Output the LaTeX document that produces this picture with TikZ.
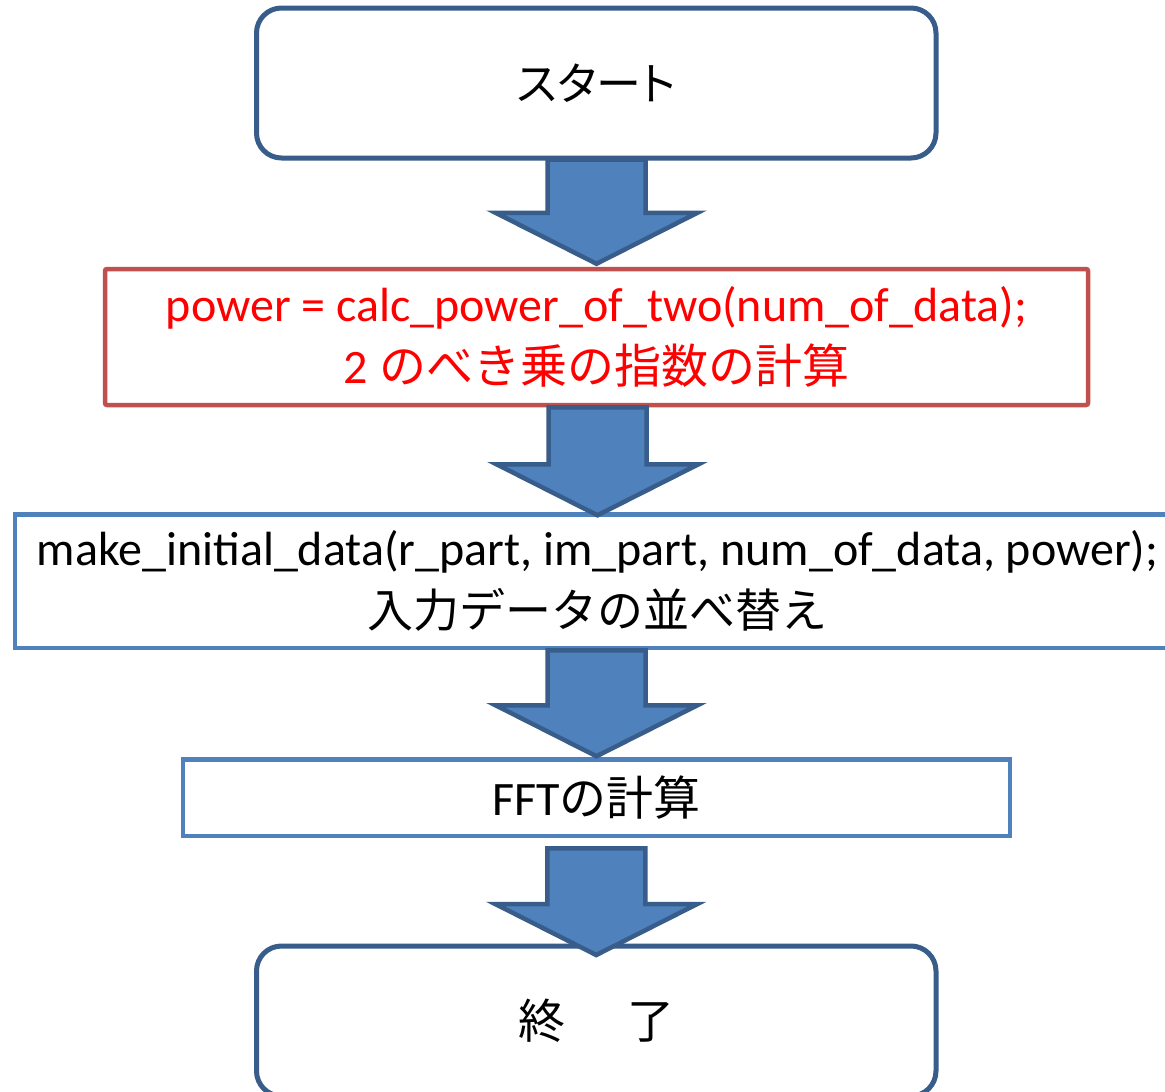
\documentclass[tikz,border=0pt]{standalone}
\usepackage{fontspec}
\setmainfont{Carlito}
\newfontfamily\cjk{Noto Sans CJK JP}
\newfontfamily\cjkp[RawFeature=+palt]{Noto Sans CJK JP}
\usetikzlibrary{calc}
\definecolor{darkb}{HTML}{385D8A}
\definecolor{midb}{HTML}{4F81BD}
\definecolor{redb}{HTML}{C0504D}
\definecolor{redt}{HTML}{FF0000}
\newcommand\jp[2][47]{{\cjk\fontsize{#1}{60}\selectfont #2}}
\newcommand\blockarr[4]{%
  \path[barrow] let \p1=($(#1.south)+(0,#3)$), \p2=($(#2.north)+(0,#4)$) in
    (\x2-49pt,\y1) -- (\x2+49pt,\y1) -- (\x2+49pt,\y2+51pt) -- (\x2+101pt,\y2+51pt)
    -- (\x2,\y2) -- (\x2-101pt,\y2+51pt) -- (\x2-49pt,\y2+51pt) -- cycle;}
\begin{document}
\begin{tikzpicture}[x=1pt,y=-1pt,
  box/.style={rectangle,inner sep=0pt,align=center,font=\fontsize{48}{62}\selectfont},
  termbox/.style={box,draw=darkb,line width=5pt,rounded corners=25pt,minimum width=679.5pt,minimum height=150pt},
  procbox/.style={box,draw=midb,line width=4.5pt},
  redbox/.style={box,draw=redb,line width=4.5pt,rounded corners=2pt,text=redt},
  barrow/.style={draw=darkb,fill=midb,line width=4.5pt,line join=miter}]
\clip (0,0) rectangle (1165,1092);
\fill[white] (0,0) rectangle (1165,1092);
\node[termbox] (start) at (596.25,83) {{\cjkp\fontsize{45}{60}\selectfont スタート}};
\node[redbox,minimum width=983pt,minimum height=136pt] (calc) at (596.5,337)
  {power = calc\_power\_of\_two(num\_of\_data);\\2 \jp{のべき乗の指数の計算}};
\node[procbox,minimum width=1165pt,minimum height=133.5pt] (init) at (597.5,581.25)
  {make\_initial\_data(r\_part, im\_part, num\_of\_data, power);\\\jp[46]{入力データの並べ替え}};
\node[procbox,minimum width=827pt,minimum height=76.5pt] (fft) at (596.5,797.75)
  {FFT\jp{の計算}};
\node[termbox] (end) at (596.25,1021) {\jp{終\hspace{62pt}了}};
\blockarr{start}{calc}{-1}{-3}
\blockarr{calc}{init}{0}{3}
\blockarr{init}{fft}{0}{-1}
\blockarr{fft}{end}{10}{11.5}
\end{tikzpicture}
\end{document}
